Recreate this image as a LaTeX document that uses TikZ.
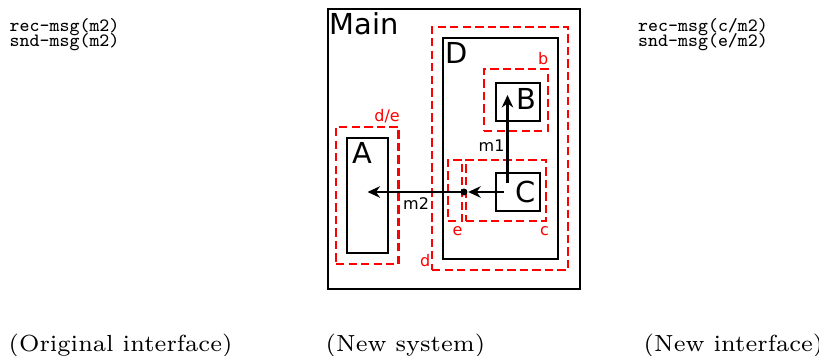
\documentclass[tikz,border=0pt]{standalone}
\usepackage{fontspec}
\newfontfamily\dejavu{DejaVu Sans}
\usetikzlibrary{arrows.meta,fit}
\begin{document}
\begin{tikzpicture}[x=0.2874pt,y=-0.2874pt,
  blackbox/.style={draw=black,line width=0.6pt,inner sep=0pt},
  redbox/.style={draw=red,line width=0.6pt,dash pattern=on 2.4pt off 1.2pt,inner sep=0pt},
  bigtxt/.style={font=\dejavu\fontsize{8.3}{10}\selectfont,inner sep=0pt,anchor=base west},
  redlbl/.style={font=\dejavu\fontsize{4.6}{5.5}\selectfont,text=red,inner sep=0pt},
  msglbl/.style={font=\dejavu\fontsize{4.6}{5.5}\selectfont,inner sep=0pt},
  codetxt/.style={font=\ttfamily\fontsize{5.4}{6}\selectfont,inner sep=0pt,anchor=base west},
  captxt/.style={font=\fontsize{6.7}{8}\selectfont,inner sep=0pt,anchor=base west},
  arr/.style={-{Stealth[length=3.6pt,width=3.3pt]},line width=0.6pt},
  junction/.style={circle,fill=black,inner sep=0pt,minimum size=2pt}
]
\useasboundingbox (0,0) rectangle (819,356);

% left and right interface texts
\node[codetxt] (l1) at (9,31.7) {rec-msg(m2)};
\node[codetxt] (l2) at (9,46.7) {snd-msg(m2)};
\node[codetxt] (r1) at (637.5,31.7) {rec-msg(c/m2)};
\node[codetxt] (r2) at (637.5,46.7) {snd-msg(e/m2)};

% captions
\node[captxt] (cap1) at (8,351) {(Original interface)};
\node[captxt] (cap2) at (325,351) {(New system)};
\node[captxt] (cap3) at (643,351) {(New interface)};

% Main box
\node[blackbox,fit={(328,9) (580,289)}] (main) {};
\node[bigtxt] (mainlbl) at (329,35) {Main};

% red dashed boxes
\node[redbox,fit={(432,27) (568,270)}] (d) {};
\node[redbox,fit={(336,127) (398.5,264)}] (de) {};
\node[redbox,fit={(484,69) (548,131)}] (b) {};
\node[redbox,fit={(466,160) (546,221)}] (c) {};
\node[redbox,fit={(448,160) (462,221)}] (e) {};

% black component boxes
\node[blackbox,fit={(443,38) (558,259)}] (D) {};
\node[blackbox,fit={(347,138) (388,253)}] (A) {};
\node[blackbox,fit={(496,83) (540,121)}] (B) {};
\node[blackbox,fit={(496,173) (540,211)}] (C) {};

\node[bigtxt] (Dl) at (445,63.3) {D};
\node[bigtxt] (Al) at (351.5,164) {A};
\node[bigtxt] (Bl) at (516,110) {B};
\node[bigtxt] (Cl) at (514.5,202.7) {C};

% red labels
\node[redlbl,anchor=base east] (delbl) at (400.5,121.7) {d/e};
\node[redlbl,anchor=base east] (blbl) at (549,65) {b};
\node[redlbl,anchor=base west] (elbl) at (452,235.5) {e};
\node[redlbl,anchor=base west] (clbl) at (539.5,235.5) {c};
\node[redlbl,anchor=base west] (dlbl) at (419.5,266.7) {d};

% connectors
\node[junction] (dot) at (464,192) {};
\coordinate (cs) at (504,192);
\coordinate (ms) at (507.5,183);
\coordinate (mt) at (507.5,95);
\draw[arr] (cs) -- (dot);
\draw[arr] (dot.center) -- (dot.center -| A.center);
\draw[arr] (ms) -- (mt);

\node[msglbl,anchor=base west] (m1) at (478,151.7) {m1};
\node[msglbl,anchor=base west] (m2) at (402.5,210) {m2};
\end{tikzpicture}
\end{document}
